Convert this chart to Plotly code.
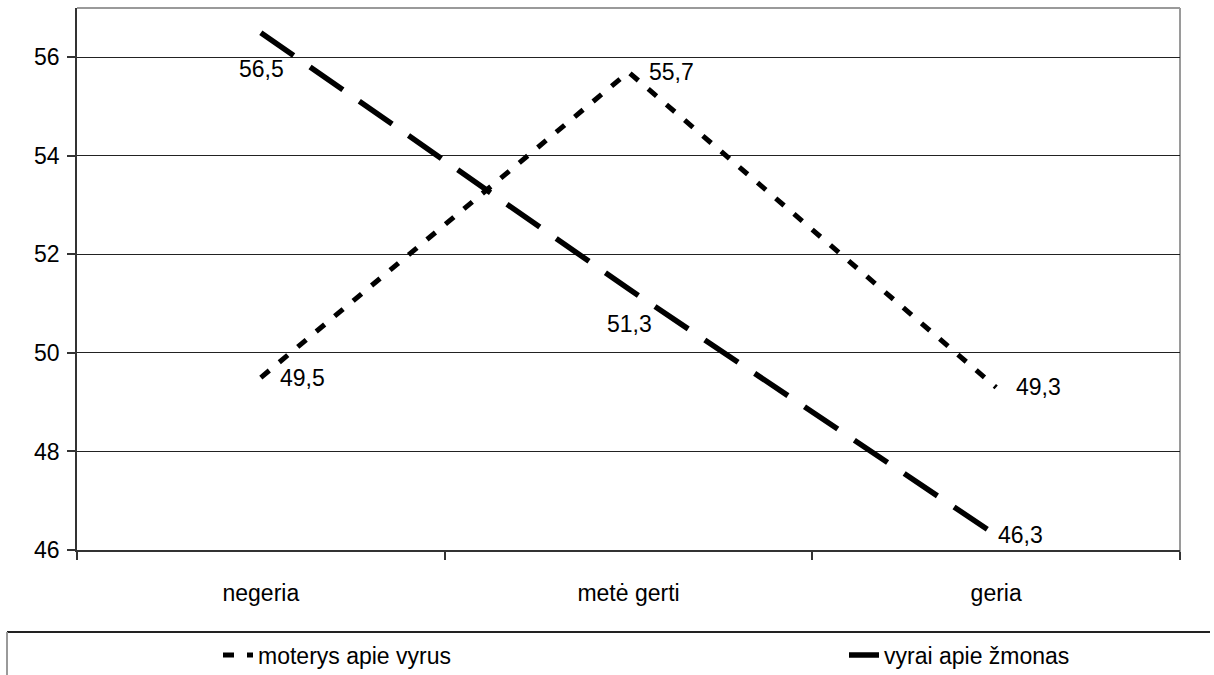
import plotly.graph_objects as go

categories = ["negeria", "metė gerti", "geria"]
moterys_apie_vyrus = [49.5, 55.7, 49.3]
vyrai_apie_zmonas = [56.5, 51.3, 46.3]
y_ticks = [46, 48, 50, 52, 54, 56]
y_range = [46, 57]

FONT = "Liberation Sans, Arial, sans-serif"


def fmt(v):
    return f"{v:.1f}".replace(".", ",")


fig = go.Figure()
fig.add_trace(go.Scatter(
    x=categories, y=moterys_apie_vyrus, mode="lines", name="moterys apie vyrus",
    line=dict(color="black", width=5, dash="11px,13px"), legend="legend"))
fig.add_trace(go.Scatter(
    x=categories, y=vyrai_apie_zmonas, mode="lines", name="vyrai apie žmonas",
    line=dict(color="black", width=5.5, dash="40px,20px"), legend="legend2"))

# data labels (offsets are style)
off_m = [(17, 0, "left"), (18, 0, "left"), (18, 0, "left")]
off_v = [(1, -36, "center"), (1, -35, "center"), (0, 0, "left")]
annotations = []
for series, offs in ((moterys_apie_vyrus, off_m), (vyrai_apie_zmonas, off_v)):
    for c, v, (dx, dy, anc) in zip(categories, series, offs):
        annotations.append(dict(
            x=c, y=v, xref="x", yref="y", text=fmt(v), showarrow=False,
            xanchor=anc, yanchor="middle", xshift=dx, yshift=dy,
            font=dict(family=FONT, size=23, color="black")))

shapes = [
    dict(type="line", xref="paper", yref="paper", x0=0, x1=1, y0=1, y1=1,
         line=dict(color="#9a9a9a", width=2), layer="below"),
    dict(type="line", xref="paper", yref="paper", x0=1, x1=1, y0=-8/542, y1=1,
         line=dict(color="#9a9a9a", width=2), layer="below"),
    # legend box
    dict(type="line", xref="paper", yref="paper", x0=(7-77)/1103, x1=(1210-77)/1103,
         y0=(550-632)/542, y1=(550-632)/542, line=dict(color="#222", width=2)),
    dict(type="line", xref="paper", yref="paper", x0=(7-77)/1103, x1=(7-77)/1103,
         y0=(550-632)/542, y1=(550-700)/542, line=dict(color="#9a9a9a", width=2)),
]

legend_common = dict(orientation="h", yanchor="middle", xanchor="left",
                     yref="container", y=(675-655)/675, bgcolor="rgba(0,0,0,0)",
                     font=dict(family=FONT, size=23, color="black"))

fig.update_layout(
    width=1214, height=675,
    margin=dict(l=77, r=34, t=8, b=125),
    paper_bgcolor="white", plot_bgcolor="white",
    font=dict(family=FONT, size=23, color="black"),
    showlegend=True,
    legend=dict(x=(218-77)/1103, **legend_common),
    legend2=dict(x=(844-77)/1103, **legend_common),
    annotations=annotations,
    shapes=shapes,
    xaxis=dict(type="category", range=[-0.5, 2.5], tickson="boundaries",
               ticks="outside", ticklen=8, tickcolor="#333", tickwidth=1.5,
               showline=True, linecolor="#333", linewidth=1.5, showgrid=False,
               ticklabelstandoff=22, automargin=False,
               tickfont=dict(family=FONT, size=23, color="black")),
    yaxis=dict(range=y_range, tickvals=y_ticks, ticks="outside", ticklen=8,
               tickcolor="#333", tickwidth=1.5, showline=True, linecolor="#333",
               linewidth=1.5, showgrid=True, gridcolor="#222", gridwidth=1.3,
               zeroline=False, ticklabelstandoff=3, automargin=False,
               tickfont=dict(family=FONT, size=23, color="black")),
)

fig.write_html("out.html", config={"displayModeBar": False},
               post_script="document.body.style.margin='0';")
